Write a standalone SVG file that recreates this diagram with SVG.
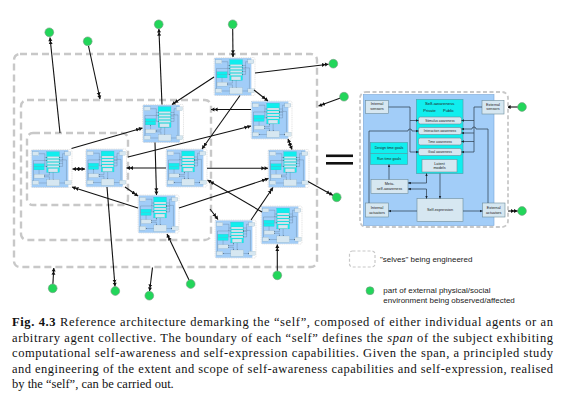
<svg xmlns="http://www.w3.org/2000/svg" xmlns:xlink="http://www.w3.org/1999/xlink" width="578" height="414" viewBox="0 0 578 414">
<style>
.self{fill:none;stroke:#c8c8c8;stroke-width:2.4;stroke-dasharray:7 4}
.con{fill:none;stroke:#111;stroke-width:1.1}
.dot{fill:#22d65a;stroke:#7b9a86;stroke-width:0.6}
.box{fill:#d6e7f1;stroke:#6d8c9c;stroke-width:0.6}
.cy{fill:#10eeee;stroke:#4aa6b0;stroke-width:0.7}
.il{fill:none;stroke:#2a3a48;stroke-width:0.7}
.lbl{font-family:"Liberation Sans",Arial,sans-serif;fill:#222;text-anchor:middle}
.cap{font-family:"Liberation Serif","Times New Roman",serif;font-size:12.5px;fill:#111}
.leg{font-family:"Liberation Sans",Arial,sans-serif;font-size:8px;fill:#222}
</style>
<defs>
<marker id="ah" viewBox="0 0 12 8" refX="11.5" refY="4" markerWidth="7" markerHeight="4.6" markerUnits="userSpaceOnUse" orient="auto-start-reverse">
<path d="M0,0.5 L6,4 L0,7.5 z M5.5,0.5 L11.5,4 L5.5,7.5 z" fill="#111"/>
</marker>
<marker id="as" viewBox="0 0 10 10" refX="9.5" refY="5" markerWidth="3" markerHeight="3" markerUnits="userSpaceOnUse" orient="auto-start-reverse">
<path d="M0,0.5 L10,5 L0,9.5 z" fill="#1a2530"/>
</marker>
<g id="agentShapes">
<rect x="0" y="0" width="148" height="135" rx="6" fill="#fff" stroke="#c8c8c8" stroke-width="1.8" stroke-dasharray="4 2.5"/>
<rect x="3.3" y="2.5" width="130.7" height="131" fill="#a2cdf8" stroke="#7aa6d6" stroke-width="0.6"/>
<rect class="cy" x="56.5" y="7.5" width="46.5" height="74"/>
<rect class="box" x="58.5" y="25" width="43" height="7" rx="1.8"/>
<rect class="box" x="58.5" y="35.5" width="43" height="7" rx="1.8"/>
<rect class="box" x="58.5" y="46" width="43" height="7" rx="1.8"/>
<rect class="box" x="58.5" y="56.5" width="43" height="7" rx="1.8"/>
<rect class="box" x="62" y="67.5" width="35" height="12.5"/>
<rect class="box" x="5.5" y="8.5" width="23" height="13"/>
<rect class="box" x="122" y="8.5" width="22" height="13.5"/>
<rect class="cy" x="10.5" y="50.5" width="37" height="11"/>
<rect class="cy" x="10.5" y="61.5" width="37" height="11"/>
<rect class="box" x="11" y="87.5" width="37" height="14"/>
<rect class="box" x="57" y="106.5" width="46" height="23"/>
<rect class="box" x="5.5" y="111" width="23" height="14"/>
<rect class="box" x="122.5" y="111" width="22.5" height="14"/>
<path class="il" d="M28.5,15 H50 V60"/>
<path class="il" d="M50,28.5 H58.5" marker-end="url(#as)"/>
<path class="il" d="M50,60 H58.5" marker-end="url(#as)"/>
<path class="il" d="M9,111 V39 H48 a2,2 0 0 1 4,0 H58.5" marker-end="url(#as)"/>
<path class="il" d="M122,15 H114 V60"/>
<path class="il" d="M114,28.5 H101.5" marker-end="url(#as)"/>
<path class="il" d="M114,41 H101.5" marker-end="url(#as)"/>
<path class="il" d="M114,49.5 H101.5" marker-end="url(#as)"/>
<path class="il" d="M114,60 H101.5" marker-end="url(#as)"/>
<path class="il" d="M128,111 V37 H116 a2,2 0 0 0 -4,0 H101.5" marker-end="url(#as)"/>
<path class="il" d="M29,87.5 V72.5" marker-end="url(#as)"/>
<path class="il" d="M48,91 H66.5 V81.5" marker-start="url(#as)" marker-end="url(#as)"/>
<path class="il" d="M48,97 H66.5 V106.5" marker-start="url(#as)" marker-end="url(#as)"/>
<path class="il" d="M80,81.5 V106.5" marker-end="url(#as)"/>
<path class="il" d="M57,119 H28.5" marker-end="url(#as)"/>
<path class="il" d="M103,119 H122.5" marker-end="url(#as)"/>
</g>
</defs>
<rect width="578" height="414" fill="#fff"/>

<g id="selves">
<rect class="self" x="14" y="54" width="303" height="213" rx="6"/>
<rect class="self" x="21" y="100" width="190" height="140" rx="6"/>
<rect class="self" x="27" y="133" width="101" height="72" rx="6"/>
</g>

<g id="agents">
<use id="n1" xlink:href="#agentShapes" transform="translate(214,57.5) scale(0.277,0.2815)"/>
<use id="n2" xlink:href="#agentShapes" transform="translate(142.5,104.5) scale(0.277,0.2815)"/>
<use id="n3" xlink:href="#agentShapes" transform="translate(251,101) scale(0.277,0.2815)"/>
<use id="n4" xlink:href="#agentShapes" transform="translate(31,149.5) scale(0.277,0.2815)"/>
<use id="n5" xlink:href="#agentShapes" transform="translate(85.5,149) scale(0.277,0.2815)"/>
<use id="n6" xlink:href="#agentShapes" transform="translate(166,149) scale(0.277,0.2815)"/>
<use id="n7" xlink:href="#agentShapes" transform="translate(268,149.5) scale(0.277,0.2815)"/>
<use id="n8" xlink:href="#agentShapes" transform="translate(138,195) scale(0.277,0.2815)"/>
<use id="n9" xlink:href="#agentShapes" transform="translate(215,220) scale(0.277,0.2815)"/>
<use id="n10" xlink:href="#agentShapes" transform="translate(261,206) scale(0.277,0.2815)"/>
</g>

<g id="environment">
<circle class="dot" cx="49.3" cy="32.3" r="4.4"/>
<circle class="dot" cx="87.7" cy="41.3" r="4.4"/>
<circle class="dot" cx="158.7" cy="24.3" r="4.4"/>
<circle class="dot" cx="232.7" cy="24.3" r="4.4"/>
<circle class="dot" cx="333.3" cy="63.7" r="4.4"/>
<circle class="dot" cx="344" cy="96.7" r="4.4"/>
<circle class="dot" cx="52.7" cy="288.3" r="4.4"/>
<circle class="dot" cx="115.3" cy="291" r="4.4"/>
<circle class="dot" cx="149.3" cy="295.7" r="4.4"/>
<circle class="dot" cx="190.7" cy="284" r="4.4"/>
<circle class="dot" cx="277.3" cy="275.3" r="4.4"/>
<circle class="dot" cx="336.7" cy="197.3" r="4.4"/>
<circle class="dot" cx="522" cy="107" r="4.4"/>
<circle class="dot" cx="522" cy="211" r="4.4"/>
</g>

<g id="connectors">
<path class="con" d="M60,133 L50,37.5" marker-end="url(#ah)"/>
<path class="con" d="M88.5,46 L100,99" marker-end="url(#ah)"/>
<path class="con" d="M162,104.5 L158.9,29" marker-end="url(#ah)"/>
<path class="con" d="M232.7,29 L233,57" marker-end="url(#ah)"/>
<path class="con" d="M255,73 L328.5,64.2" marker-end="url(#ah)"/>
<path class="con" d="M339.8,98.3 L318.5,106" marker-end="url(#ah)"/>
<path class="con" d="M214,77 L172,104.5" marker-end="url(#ah)"/>
<path class="con" d="M254,90 L268,101" marker-end="url(#ah)"/>
<path class="con" d="M240,95.5 L202,149" marker-end="url(#ah)"/>
<path class="con" d="M251,109.5 L211,109.5" marker-end="url(#ah)"/>
<path class="con" d="M128,157 L251,126" marker-end="url(#ah)"/>
<path class="con" d="M155,142.5 L156.5,195" marker-end="url(#ah)"/>
<path class="con" d="M71.5,148.5 L142.5,128" marker-end="url(#ah)"/>
<path class="con" d="M72.5,169 L85,169" marker-start="url(#ah)" marker-end="url(#ah)"/>
<path class="con" d="M166,168 L126.5,168" marker-end="url(#ah)"/>
<path class="con" d="M207,168.3 L268,168.3" marker-end="url(#ah)"/>
<path class="con" d="M179,208 L268.5,178.5" marker-end="url(#ah)"/>
<path class="con" d="M262,212 L207.5,180" marker-end="url(#ah)"/>
<path class="con" d="M251,220 L273,187.5" marker-end="url(#ah)"/>
<path class="con" d="M210,209 L218,219.5" marker-end="url(#ah)"/>
<path class="con" d="M138,208 L72,187" marker-end="url(#ah)"/>
<path class="con" d="M125,187 L138,196" marker-end="url(#ah)"/>
<path class="con" d="M107,187 L115,286.3" marker-end="url(#ah)"/>
<path class="con" d="M52.9,283.8 L53.8,268" marker-end="url(#ah)"/>
<path class="con" d="M152.5,267.5 L149.6,291" marker-end="url(#ah)"/>
<path class="con" d="M188.9,279.8 L167,234" marker-end="url(#ah)"/>
<path class="con" d="M277.3,270.8 L277.3,244.5" marker-end="url(#ah)"/>
<path class="con" d="M308,181.5 L332.8,195.2" marker-end="url(#ah)"/>
<path class="con" d="M288,139 L292,149.5" marker-start="url(#ah)" marker-end="url(#ah)"/>
<path class="con" d="M517.5,107 L504,107" marker-end="url(#ah)"/>
<path class="con" d="M505,211 L517.5,211" marker-end="url(#ah)"/>
</g>

<g id="equals">
<rect x="326" y="154.5" width="27" height="2.6" fill="#111"/>
<rect x="326" y="162" width="27" height="2.6" fill="#111"/>
</g>

<g id="agent-detail">
<use xlink:href="#agentShapes" transform="translate(360,92)"/>
<text class="lbl" font-size="3.8"><tspan x="377" y="105.3">Internal</tspan><tspan x="377" y="110">sensors</tspan></text>
<text class="lbl" font-size="3.8"><tspan x="493" y="105.5">External</tspan><tspan x="493" y="110.2">sensors</tspan></text>
<text class="lbl" font-size="4.3" x="439.7" y="104.5">Self-awareness</text>
<text class="lbl" font-size="4" x="429.5" y="112">Private</text>
<text class="lbl" font-size="4" x="448.5" y="112">Public</text>
<text class="lbl" font-size="3.3" x="440" y="121.7">Stimulus awareness</text>
<text class="lbl" font-size="3.3" x="440" y="132.2">Interaction awareness</text>
<text class="lbl" font-size="3.3" x="440" y="142.7">Time awareness</text>
<text class="lbl" font-size="3.3" x="440" y="153.2">Goal awareness</text>
<text class="lbl" font-size="3.8"><tspan x="439.5" y="164.7">Latent</tspan><tspan x="439.5" y="169.4">models</tspan></text>
<text class="lbl" font-size="3.6" x="389" y="149.3">Design time goals</text>
<text class="lbl" font-size="3.6" x="389" y="160.3">Run time goals</text>
<text class="lbl" font-size="3.8"><tspan x="389.5" y="185.2">Meta-</tspan><tspan x="389.5" y="190.4">self-awareness</tspan></text>
<text class="lbl" font-size="3.8" x="440" y="211.3">Self-expression</text>
<text class="lbl" font-size="3.8"><tspan x="377" y="209">Internal</tspan><tspan x="377" y="213.8">actuators</tspan></text>
<text class="lbl" font-size="3.8"><tspan x="493.7" y="209">External</tspan><tspan x="493.7" y="213.8">actuators</tspan></text>
</g>

<g id="legend">
<rect x="349.5" y="251" width="25.5" height="16" rx="3" fill="none" stroke="#c8c8c8" stroke-width="1.2" stroke-dasharray="3 2"/>
<text class="leg" x="380" y="262">"selves" being engineered</text>
<circle class="dot" cx="370" cy="290.7" r="4"/>
<text class="leg" x="383.3" y="292.5">part of external physical/social</text>
<text class="leg" x="383.3" y="302.5">environment being observed/affected</text>
</g>

<g id="caption">
<text class="cap" x="12" y="326" textLength="541" lengthAdjust="spacing"><tspan font-weight="bold">Fig. 4.3</tspan> Reference architecture demarking the “self”, composed of either individual agents or an</text>
<text class="cap" x="12" y="341.5" textLength="541" lengthAdjust="spacing">arbitrary agent collective. The boundary of each “self” defines the <tspan font-style="italic">span</tspan> of the subject exhibiting</text>
<text class="cap" x="12" y="357" textLength="541" lengthAdjust="spacing">computational self-awareness and self-expression capabilities. Given the span, a principled study</text>
<text class="cap" x="12" y="372.5" textLength="541" lengthAdjust="spacing">and engineering of the extent and scope of self-awareness capabilities and self-expression, realised</text>
<text class="cap" x="12" y="388">by the “self”, can be carried out.</text>
</g>
</svg>
